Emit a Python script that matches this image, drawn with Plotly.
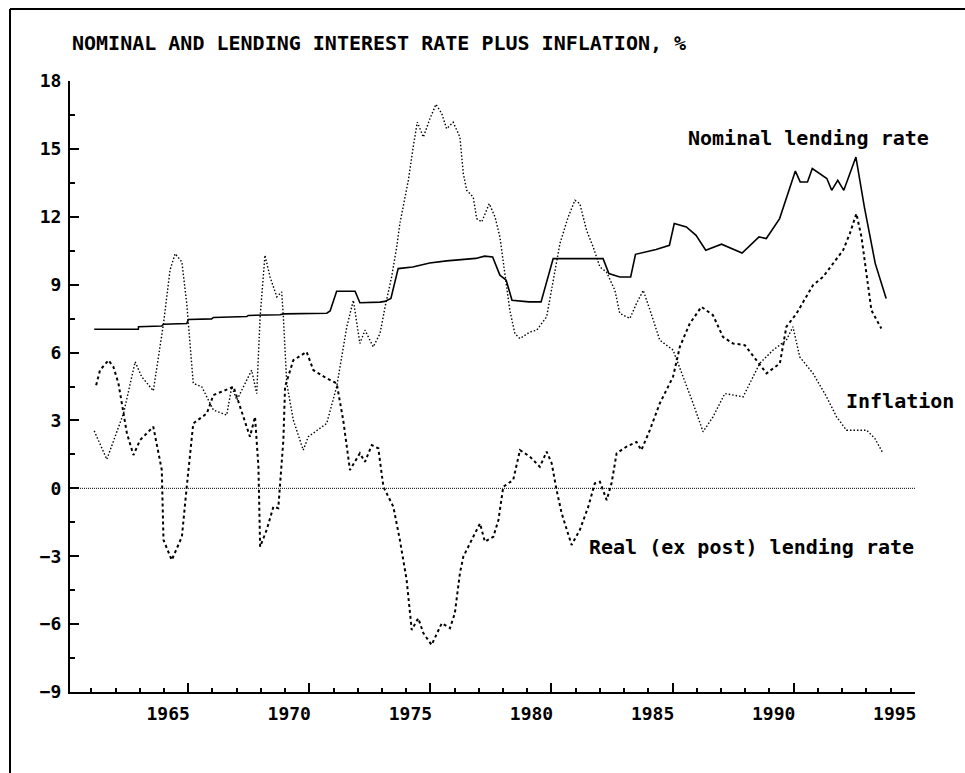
import plotly.graph_objects as go

# ---------------- data ----------------
nominal_years = [1961.95, 1963.77, 1963.78, 1964.74, 1964.81, 1965.77, 1965.84, 1966.80, 1966.87,
                 1968.25, 1968.31, 1969.62, 1969.76, 1971.55, 1971.69, 1971.96, 1972.72, 1972.92,
                 1973.75, 1973.95, 1974.2, 1974.5, 1975.1, 1975.8, 1976.5, 1977.2, 1977.7, 1978.07,
                 1978.4, 1978.7, 1978.96, 1979.2, 1979.9, 1980.4, 1980.9, 1981.6, 1982.96, 1983.2,
                 1983.65, 1984.1, 1984.3, 1985.15, 1985.7, 1985.9, 1986.4, 1986.8, 1987.2, 1987.85,
                 1988.3, 1988.7, 1989.4, 1989.7, 1990.25, 1990.5, 1990.9, 1991.1, 1991.4, 1991.6,
                 1992.2, 1992.4, 1992.65, 1992.9, 1993.4, 1993.75, 1994.2, 1994.65]
nominal_rate = [7.03, 7.03, 7.14, 7.17, 7.25, 7.28, 7.46, 7.49, 7.55,
                7.59, 7.64, 7.67, 7.71, 7.74, 7.84, 8.71, 8.71, 8.20,
                8.23, 8.26, 8.39, 9.71, 9.78, 9.96, 10.05, 10.11, 10.16, 10.26,
                10.22, 9.42, 9.20, 8.31, 8.24, 8.24, 10.15, 10.15, 10.15, 9.49,
                9.34, 9.34, 10.34, 10.55, 10.74, 11.70, 11.55, 11.18, 10.52, 10.79,
                10.60, 10.40, 11.11, 11.04, 11.92, 12.73, 14.02, 13.54, 13.54, 14.13,
                13.69, 13.17, 13.61, 13.17, 14.64, 12.43, 9.93, 8.39]

inflation_years = [1961.95, 1962.47, 1963.16, 1963.64, 1963.91, 1964.39, 1964.81, 1965.08, 1965.29,
                   1965.57, 1965.77, 1966.04, 1966.39, 1966.87, 1967.42, 1967.63, 1967.84, 1968.45,
                   1968.66, 1968.8, 1969.0, 1969.21, 1969.49, 1969.69, 1969.76, 1969.9, 1970.17,
                   1970.58, 1970.79, 1971.14, 1971.55, 1971.96, 1972.38, 1972.65, 1972.92, 1973.13,
                   1973.47, 1973.75, 1973.96, 1974.23, 1974.44, 1974.57, 1974.92, 1975.12, 1975.29,
                   1975.54, 1975.81, 1976.06, 1976.3, 1976.5, 1976.77, 1977.05, 1977.19, 1977.33,
                   1977.6, 1977.74, 1977.95, 1978.26, 1978.5, 1978.7, 1978.91, 1979.11, 1979.32,
                   1979.53, 1979.94, 1980.22, 1980.63, 1981.18, 1981.52, 1981.8, 1982.0, 1982.28,
                   1982.55, 1982.83, 1983.1, 1983.45, 1983.65, 1984.07, 1984.34, 1984.62, 1984.9,
                   1985.17, 1985.3, 1985.85, 1986.27, 1986.68, 1987.09, 1987.5, 1987.99, 1988.74,
                   1989.43, 1989.98, 1990.53, 1990.8, 1991.08, 1991.63, 1992.19, 1992.6, 1993.01,
                   1993.84, 1994.18, 1994.52]
inflation = [2.54, 1.28, 3.31, 5.59, 4.93, 4.31, 7.28, 9.64, 10.37,
             10.00, 8.17, 4.64, 4.49, 3.46, 3.24, 4.49, 3.90, 5.22,
             4.19, 7.58, 10.30, 9.34, 8.46, 8.68, 7.58, 4.64, 3.02,
             1.69, 2.28, 2.57, 2.87, 4.49, 7.14, 8.31, 6.40, 6.99,
             6.25, 6.84, 8.02, 9.34, 10.67, 11.70, 13.61, 15.08, 16.18,
             15.52, 16.33, 16.97, 16.56, 15.89, 16.18, 15.52, 13.91, 13.17,
             12.87, 11.92, 11.77, 12.58, 11.99, 11.11, 9.34, 7.87, 6.84,
             6.62, 6.91, 6.99, 7.58, 10.82, 11.99, 12.73, 12.58, 11.40,
             10.67, 9.78, 9.56, 8.75, 7.73, 7.51, 8.17, 8.75, 7.87,
             6.99, 6.55, 6.11, 4.93, 3.75, 2.50, 3.16, 4.19, 4.04,
             5.52, 6.11, 6.55, 7.14, 5.81, 5.08, 4.04, 3.16, 2.57,
             2.57, 2.21, 1.55]

real_years = [1962.03, 1962.19, 1962.54, 1962.74, 1962.95, 1963.09, 1963.3, 1963.57, 1963.84,
              1964.12, 1964.39, 1964.74, 1964.81, 1965.15, 1965.57, 1965.77, 1966.04, 1966.6,
              1966.87, 1967.7, 1968.11, 1968.38, 1968.59, 1968.73, 1968.8, 1969.07, 1969.35,
              1969.55, 1969.76, 1969.83, 1970.17, 1970.72, 1971.0, 1971.55, 1971.96, 1972.23,
              1972.51, 1972.92, 1973.13, 1973.41, 1973.68, 1973.89, 1974.3, 1974.57, 1974.85,
              1975.06, 1975.33, 1975.54, 1975.88, 1976.3, 1976.64, 1976.84, 1977.05, 1977.19,
              1977.6, 1977.88, 1978.08, 1978.43, 1978.64, 1978.84, 1979.25, 1979.53, 1979.94,
              1980.35, 1980.63, 1980.84, 1981.04, 1981.25, 1981.66, 1982.0, 1982.35, 1982.62,
              1982.83, 1983.11, 1983.31, 1983.52, 1983.93, 1984.34, 1984.54, 1984.89, 1985.3,
              1985.85, 1986.13, 1986.54, 1987.02, 1987.5, 1987.91, 1988.33, 1988.81, 1989.3,
              1989.71, 1990.26, 1990.53, 1990.95, 1991.63, 1992.04, 1992.46, 1992.87, 1993.15,
              1993.42, 1993.63, 1993.84, 1994.04, 1994.45]
real_rate = [4.56, 5.22, 5.66, 5.37, 4.64, 3.75, 2.43, 1.47, 2.13,
             2.43, 2.72, 0.81, -2.28, -3.17, -2.14, 0.07, 2.87, 3.31,
             4.12, 4.49, 3.16, 2.28, 3.16, 0.95, -2.58, -1.84, -0.81,
             -0.88, 2.13, 4.49, 5.66, 6.03, 5.22, 4.86, 4.64, 3.02,
             0.81, 1.55, 1.17, 1.91, 1.77, 0.07, -0.81, -2.28, -4.05,
             -6.26, -5.74, -6.40, -6.92, -5.96, -6.18, -5.52, -3.75, -3.02,
             -2.14, -1.55, -2.36, -2.14, -1.40, 0.07, 0.37, 1.69, 1.40,
             0.95, 1.62, 1.10, -0.07, -1.10, -2.50, -1.84, -0.81, 0.22,
             0.29, -0.52, 0.22, 1.55, 1.84, 2.05, 1.69, 2.57, 3.75,
             4.93, 6.25, 7.28, 8.02, 7.65, 6.69, 6.40, 6.33, 5.66,
             5.08, 5.52, 7.14, 7.73, 8.98, 9.34, 9.93, 10.52, 11.26,
             12.14, 11.11, 9.34, 7.87, 7.06]

x_tick_labels = ["1965", "1970", "1975", "1980", "1985", "1990", "1995"]
x_tick_positions = [1965.83, 1970.83, 1975.83, 1980.83, 1985.83, 1990.83, 1995.83]
y_tick_values = [-9, -6, -3, 0, 3, 6, 9, 12, 15, 18]

title_text = "NOMINAL AND LENDING INTEREST RATE PLUS INFLATION, %"
series_labels = {
    "nominal": "Nominal lending rate",
    "inflation": "Inflation",
    "real": "Real (ex post) lending rate",
}

# ---------------- figure ----------------
MONO = "DejaVu Sans Mono"

fig = go.Figure()
fig.add_trace(go.Scatter(x=nominal_years, y=nominal_rate, mode="lines",
                         line=dict(color="black", width=1.6), name=series_labels["nominal"]))
fig.add_trace(go.Scatter(x=inflation_years, y=inflation, mode="lines",
                         line=dict(color="black", width=1.4, dash="1.5px,2px"),
                         name=series_labels["inflation"]))
fig.add_trace(go.Scatter(x=real_years, y=real_rate, mode="lines",
                         line=dict(color="black", width=2, dash="3px,3px"),
                         name=series_labels["real"]))

# zero reference line (dotted)
fig.add_shape(type="line", xref="paper", x0=0, x1=1, yref="y", y0=0, y1=0,
              line=dict(color="black", width=1, dash="1px,1px"))

# outer frame (left and top edges)
def px_to_paper_x(px):
    return (px - 70) / 845.0

def px_to_paper_y(py):
    return (692 - py) / 611.0

fig.add_shape(type="line", xref="paper", yref="paper",
              x0=px_to_paper_x(10), x1=px_to_paper_x(10),
              y0=px_to_paper_y(9), y1=px_to_paper_y(775),
              line=dict(color="black", width=2))
fig.add_shape(type="line", xref="paper", yref="paper",
              x0=px_to_paper_x(10), x1=px_to_paper_x(966),
              y0=px_to_paper_y(9), y1=px_to_paper_y(9),
              line=dict(color="black", width=2))

label_font = dict(family=MONO, size=20, color="black", weight="bold")
fig.add_annotation(x=1986.38, y=15.49, text=series_labels["nominal"], showarrow=False,
                   xanchor="left", yanchor="middle", font=label_font)
fig.add_annotation(x=1992.9, y=3.85, text=series_labels["inflation"], showarrow=False,
                   xanchor="left", yanchor="middle", font=label_font)
fig.add_annotation(x=1982.29, y=-2.58, text=series_labels["real"], showarrow=False,
                   xanchor="left", yanchor="middle", font=label_font)

fig.update_layout(
    width=965, height=773,
    margin=dict(l=70, r=50, t=81, b=81),
    paper_bgcolor="white", plot_bgcolor="white",
    showlegend=False,
    title=dict(text=title_text, xref="container", yref="container",
               x=72 / 965, xanchor="left", y=1 - 42.5 / 773, yanchor="middle",
               font=dict(family=MONO, size=20, color="black", weight="bold")),
    xaxis=dict(range=[1960.95, 1995.84], showgrid=False, zeroline=False,
               showline=True, linecolor="black", linewidth=2,
               tickmode="array", tickvals=x_tick_positions, ticktext=x_tick_labels,
               ticks="inside", ticklen=9, tickwidth=2, tickcolor="black",
               ticklabelshift=-20, ticklabelstandoff=4,
               minor=dict(ticks="inside", ticklen=4, tickwidth=1.5, tickcolor="black",
                          dtick=1, tick0=1960.83),
               tickfont=dict(family=MONO, size=18, color="black", weight="bold")),
    yaxis=dict(range=[-9, 18], showgrid=False, zeroline=False,
               showline=True, linecolor="black", linewidth=2,
               tickmode="array", tickvals=y_tick_values,
               ticks="inside", ticklen=9, tickwidth=2, tickcolor="black",
               minor=dict(ticks="inside", ticklen=5, tickwidth=1.5, tickcolor="black",
                          dtick=1.5, tick0=0),
               ticklabelstandoff=3,
               tickfont=dict(family=MONO, size=18, color="black", weight="bold")),
)

# remove the default page margin so the 965x773 figure fits the window exactly
fig.write_html("out.html",
               config={"displayModeBar": False},
               post_script="document.body.style.margin='0';document.body.style.overflow='hidden';")
